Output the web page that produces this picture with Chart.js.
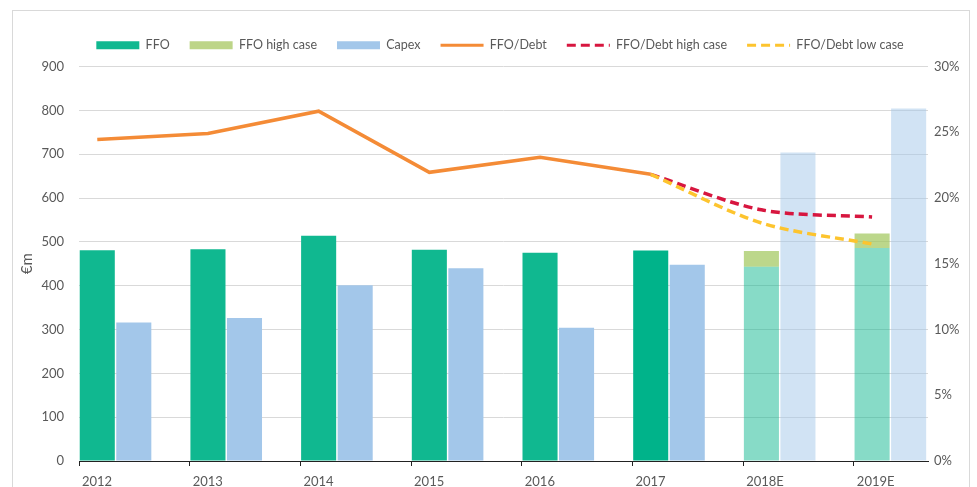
<!DOCTYPE html>
<html>
<head>
<meta charset="utf-8">
<script src="https://cdn.jsdelivr.net/npm/chart.js@4.4.0/dist/chart.umd.min.js"></script>
<style>
  html, body { margin: 0; padding: 0; background: #fff; }
  #wrap { position: relative; width: 977px; height: 487px; overflow: hidden; }
  #frame { position: absolute; left: 12px; top: 10px; width: 958px; height: 600px; border: 1px solid #d9d9d9; box-sizing: border-box; }
  #chart { position: absolute; left: 0; top: 0; }
</style>
</head>
<body>
<div id="wrap">
  <div id="frame"></div>
  <canvas id="chart" width="977" height="487"></canvas>
</div>
<script>
// Values (€m on the left axis, % on the right axis)
const categories = ['2012', '2013', '2014', '2015', '2016', '2017', '2018E', '2019E'];
const ffo = [481, 483, 514, 482, 475, 480, 443, 486];
const ffoHighCaseUplift = [null, null, null, null, null, null, 36, 33];
const capex = [316, 326, 401, 440, 304, 448, 704, 804];
const ffoDebt = [24.45, 24.9, 26.6, 21.95, 23.1, 21.8, null, null];
const ffoDebtHighCase = [null, null, null, null, null, 21.8, 19.1, 18.55];
const ffoDebtLowCase = [null, null, null, null, null, 21.8, 18.1, 16.5];
const leftTicks = { min: 0, max: 900, step: 100 };
const rightTicks = { min: 0, max: 30, step: 5 };

// the bar pair fills the left part of each year slot, lines sit on the FFO bar
const BAR_GROUP = 0.66;
const GREY = '#595959';

const toPoints = (values, offset) => values.map((value, i) => ({ x: i + offset, y: value }));

const ffoColors = categories.map((c, i) => {
  if (c.endsWith('E')) {
    return 'rgba(16, 184, 144, 0.5)';
  }
  return i === 5 ? '#00b38a' : '#10b890';
});
const capexColors = categories.map((c) => (c.endsWith('E') ? 'rgba(163, 199, 234, 0.5)' : '#a3c7ea'));

Chart.defaults.font.family = 'Lato, "Open Sans", sans-serif';
Chart.defaults.color = GREY;

const legendGap = {
  id: 'legendGap',
  beforeInit(chart) {
    if (!chart.legend) {
      return;
    }
    const fit = chart.legend.fit;
    chart.legend.fit = function () {
      fit.call(this);
      this.height += 5;
    };
  },
};

new Chart(document.getElementById('chart'), {
  type: 'bar',
  data: {
    datasets: [
      {
        type: 'bar',
        label: 'FFO',
        data: toPoints(ffo, BAR_GROUP / 2),
        stack: 'ffo',
        backgroundColor: ffoColors,
        order: 3,
      },
      {
        type: 'bar',
        label: 'FFO high case',
        data: toPoints(ffoHighCaseUplift, BAR_GROUP / 2),
        stack: 'ffo',
        backgroundColor: 'rgba(160, 198, 90, 0.7)',
        legendColor: '#bdd588',
        order: 3,
      },
      {
        type: 'bar',
        label: 'Capex',
        data: toPoints(capex, BAR_GROUP / 2),
        stack: 'capex',
        backgroundColor: capexColors,
        order: 3,
      },
      {
        type: 'line',
        label: 'FFO/Debt',
        data: toPoints(ffoDebt, BAR_GROUP / 4),
        yAxisID: 'y1',
        borderColor: '#f48b36',
        borderWidth: 3.5,
        pointRadius: 0,
        tension: 0,
        order: 2,
      },
      {
        type: 'line',
        label: 'FFO/Debt high case',
        data: toPoints(ffoDebtHighCase, BAR_GROUP / 4),
        yAxisID: 'y1',
        borderColor: '#d7163f',
        borderWidth: 3.5,
        borderDash: [9, 5],
        pointRadius: 0,
        tension: 0.3,
        order: 1,
      },
      {
        type: 'line',
        label: 'FFO/Debt low case',
        data: toPoints(ffoDebtLowCase, BAR_GROUP / 4),
        yAxisID: 'y1',
        borderColor: '#fdc42e',
        borderWidth: 3.5,
        borderDash: [9, 5],
        pointRadius: 0,
        tension: 0.3,
        order: 0,
      },
    ],
  },
  plugins: [legendGap],
  options: {
    responsive: false,
    animation: false,
    layout: { padding: { left: 23, right: 0, top: 19, bottom: 0 } },
    datasets: {
      bar: { categoryPercentage: BAR_GROUP, barPercentage: 0.96, borderWidth: 0 },
    },
    plugins: {
      tooltip: { enabled: false },
      legend: {
        position: 'top',
        labels: {
          usePointStyle: true,
          pointStyleWidth: 43,
          boxHeight: 8,
          padding: 20,
          color: GREY,
          font: { size: 12.5 },
          sort: (a, b) => a.datasetIndex - b.datasetIndex,
          generateLabels(chart) {
            const items = Chart.defaults.plugins.legend.labels.generateLabels(chart);
            return items.map((item) => {
              const ds = chart.data.datasets[item.datasetIndex];
              if (ds.type === 'line') {
                item.pointStyle = 'line';
                item.strokeStyle = ds.borderColor;
                item.lineWidth = 3;
                item.lineDash = ds.borderDash || [];
              } else {
                item.pointStyle = 'rect';
                item.fillStyle = ds.legendColor || (Array.isArray(ds.backgroundColor) ? ds.backgroundColor[0] : ds.backgroundColor);
                item.lineWidth = 0;
              }
              return item;
            });
          },
        },
      },
    },
    scales: {
      x: {
        type: 'linear',
        offset: false,
        min: 0,
        max: categories.length - 1 + BAR_GROUP + 0.01,
        afterBuildTicks: (axis) => {
          axis.ticks = axis.ticks.filter((t) => Number.isInteger(t.value) && t.value < categories.length);
        },
        afterFit: (scale) => {
          scale.height = 26;
        },
        grid: { offset: false, drawOnChartArea: false, drawTicks: true, tickLength: 5, color: '#222' },
        border: { color: '#222', width: 1 },
        ticks: {
          stepSize: 1,
          autoSkip: false,
          maxRotation: 0,
          align: 'start',
          labelOffset: 3,
          padding: 8,
          color: GREY,
          font: { size: 13 },
          callback: (value) => categories[value] ?? '',
        },
      },
      y: {
        position: 'left',
        stacked: true,
        min: leftTicks.min,
        max: leftTicks.max,
        afterFit: (scale) => {
          scale.width = 56;
        },
        grid: { color: '#d9d9d9', lineWidth: 1, drawTicks: false },
        border: { display: false },
        ticks: { stepSize: leftTicks.step, padding: 15, color: GREY, font: { size: 13 } },
        title: {
          display: true,
          text: '€m',
          color: GREY,
          font: { size: 15 },
          padding: { top: -5, bottom: 0 },
        },
      },
      y1: {
        position: 'right',
        min: rightTicks.min,
        max: rightTicks.max,
        afterFit: (scale) => {
          scale.width = 49;
        },
        grid: { drawOnChartArea: false, drawTicks: false },
        border: { display: false },
        ticks: {
          stepSize: rightTicks.step,
          padding: 6,
          color: GREY,
          font: { size: 13 },
          callback: (value) => `${value}%`,
        },
      },
    },
  },
});
</script>
</body>
</html>
